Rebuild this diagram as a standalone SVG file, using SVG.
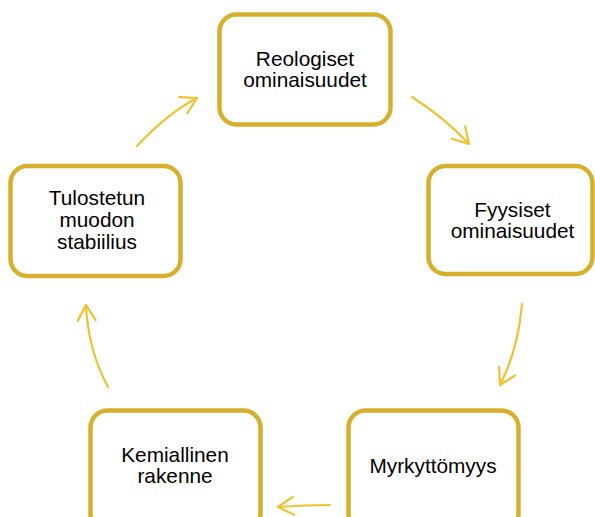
<svg xmlns="http://www.w3.org/2000/svg" width="595" height="517" viewBox="0 0 595 517">
<defs>
<style>
.box{fill:#fff;stroke:#D6B02C;stroke-width:4.5}
.lbl{font-family:"Liberation Sans",Arial,sans-serif;font-size:20.8px;fill:#000;text-anchor:middle}
.arr{fill:none;stroke:#EEC232;stroke-width:2.2;stroke-linecap:round;marker-end:url(#head)}
</style>
<marker id="head" markerUnits="userSpaceOnUse" markerWidth="20" markerHeight="20" refX="0" refY="0" orient="auto" overflow="visible">
<path d="M-15.5,-9 L0,0 L-15.5,9" fill="none" stroke="#EEC232" stroke-width="2.2" stroke-linecap="round" stroke-linejoin="round"/>
</marker>
</defs>
<rect width="595" height="517" fill="#fff"/>
<g id="connectors">
<path class="arr" d="M412,97 Q445,118 469,144"/>
<path class="arr" d="M522,304 Q518,350 500,385"/>
<path class="arr" d="M330,505 Q305,505 278,507"/>
<path class="arr" d="M108,387 Q88,350 86,305"/>
<path class="arr" d="M137,146 Q168,113 197,98"/>
</g>
<g id="reologiset">
<rect class="box" x="219.5" y="14.5" width="171" height="110" rx="17"/>
<text class="lbl" x="305" y="66">Reologiset</text>
<text class="lbl" x="305" y="87">ominaisuudet</text>
</g>
<g id="fyysiset">
<rect class="box" x="428.5" y="166" width="164" height="108" rx="17"/>
<text class="lbl" x="512.5" y="217">Fyysiset</text>
<text class="lbl" x="512.5" y="238">ominaisuudet</text>
</g>
<g id="myrkyttomyys">
<rect class="box" x="348.5" y="410.5" width="170" height="120" rx="17"/>
<text class="lbl" x="433" y="473">Myrkyttömyys</text>
</g>
<g id="kemiallinen">
<rect class="box" x="90.5" y="410.5" width="170" height="120" rx="17"/>
<text class="lbl" x="175" y="462">Kemiallinen</text>
<text class="lbl" x="175" y="483">rakenne</text>
</g>
<g id="tulostetun">
<rect class="box" x="10.5" y="166" width="170" height="110" rx="17"/>
<text class="lbl" x="97" y="205">Tulostetun</text>
<text class="lbl" x="97" y="227">muodon</text>
<text class="lbl" x="97" y="249">stabiilius</text>
</g>
</svg>
